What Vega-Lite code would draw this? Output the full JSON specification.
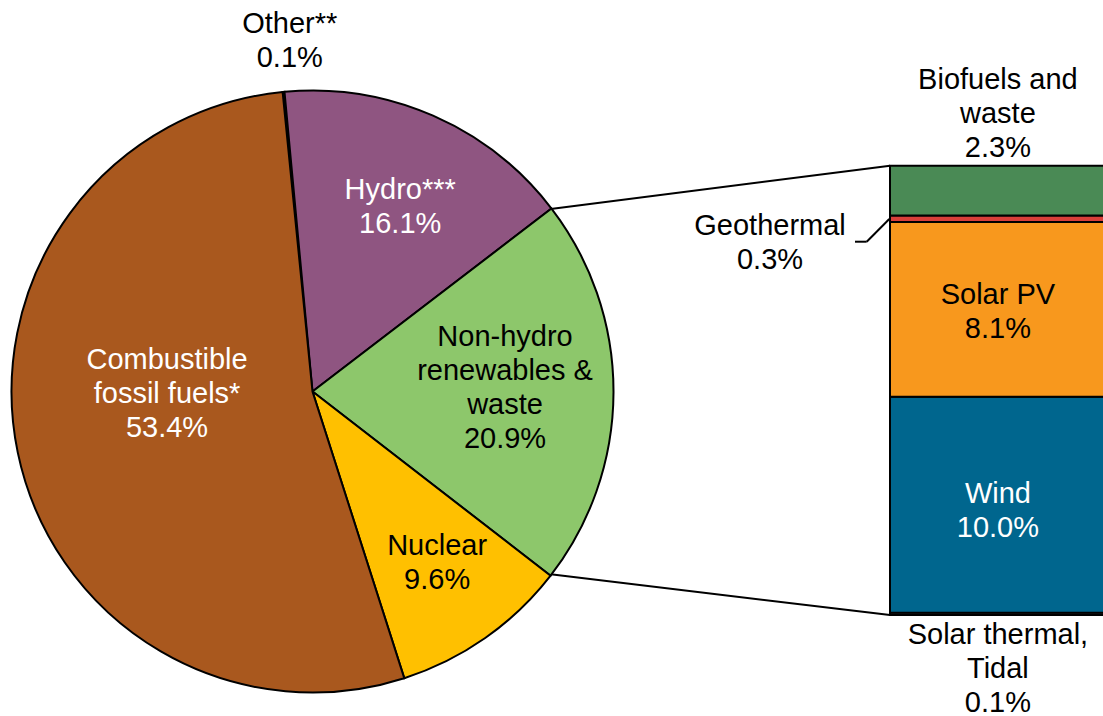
{
  "$schema": "https://vega.github.io/schema/vega-lite/v6.json",
  "width": 1103,
  "height": 716,
  "padding": 0,
  "autosize": {"type": "none"},
  "background": "white",
  "config": {
    "view": {"stroke": null},
    "text": {"font": "Liberation Sans", "fontSize": 29, "lineHeight": 34, "lineBreak": "\n", "baseline": "middle", "align": "center"}
  },
  "datasets": {
    "pie": [
      {"name": "Other", "value": 0.1, "label": "Other**\n0.1%"},
      {"name": "Hydro", "value": 16.1, "label": "Hydro***\n16.1%"},
      {"name": "Non-hydro", "value": 20.9, "label": "Non-hydro\nrenewables &\nwaste\n20.9%"},
      {"name": "Nuclear", "value": 9.6, "label": "Nuclear\n9.6%"},
      {"name": "Combustible", "value": 53.4, "label": "Combustible\nfossil fuels*\n53.4%"}
    ],
    "bar": [
      {"name": "Solar thermal, Tidal", "value": 0.1, "label": "Solar thermal,\nTidal\n0.1%"},
      {"name": "Wind", "value": 10.0, "label": "Wind\n10.0%"},
      {"name": "Solar PV", "value": 8.1, "label": "Solar PV\n8.1%"},
      {"name": "Geothermal", "value": 0.3, "label": "Geothermal\n0.3%"},
      {"name": "Biofuels and waste", "value": 2.3, "label": "Biofuels and\nwaste\n2.3%"}
    ],
    "one": [{}]
  },
  "layer": [
    {
      "data": {"name": "one"},
      "mark": {"type": "rule", "color": "black", "strokeWidth": 2},
      "encoding": {
        "x": {"datum": 25.495, "type": "quantitative", "scale": {"domain": [0, 51.065], "nice": false, "zero": false}, "axis": null},
        "y": {"datum": 18.796, "type": "quantitative", "scale": {"domain": [-4.676, 28.472], "nice": false, "zero": false}, "axis": null},
        "x2": {"datum": 41.204},
        "y2": {"datum": 20.8}
      }
    },
    {
      "data": {"name": "one"},
      "mark": {"type": "rule", "color": "black", "strokeWidth": 2},
      "encoding": {
        "x": {"datum": 25.495, "type": "quantitative"},
        "y": {"datum": 1.884, "type": "quantitative"},
        "x2": {"datum": 41.204},
        "y2": {"datum": 0}
      }
    },
    {
      "data": {"name": "one"},
      "mark": {"type": "rule", "color": "black", "strokeWidth": 2},
      "encoding": {
        "x": {"datum": 39.583, "type": "quantitative"},
        "y": {"datum": 17.282, "type": "quantitative"},
        "x2": {"datum": 40.125},
        "y2": {"datum": 17.282}
      }
    },
    {
      "data": {"name": "one"},
      "mark": {"type": "rule", "color": "black", "strokeWidth": 2},
      "encoding": {
        "x": {"datum": 40.125, "type": "quantitative"},
        "y": {"datum": 17.282, "type": "quantitative"},
        "x2": {"datum": 41.171},
        "y2": {"datum": 18.333}
      }
    },
    {
      "data": {"name": "pie"},
      "transform": [{"stack": "value", "groupby": [], "as": ["v0", "v1"]}],
      "mark": {"type": "arc", "outerRadius": 301, "stroke": "black", "strokeWidth": 2},
      "encoding": {
        "x": {"datum": 14.468, "type": "quantitative"},
        "y": {"datum": 10.347, "type": "quantitative"},
        "theta": {"field": "v0", "type": "quantitative", "stack": null, "scale": {"domain": [0, 100.1], "range": [-0.09948, 6.18371]}},
        "theta2": {"field": "v1"},
        "color": {
          "field": "name", "type": "nominal", "legend": null,
          "scale": {
            "domain": ["Other", "Hydro", "Non-hydro", "Nuclear", "Combustible", "Solar thermal, Tidal", "Wind", "Solar PV", "Geothermal", "Biofuels and waste"],
            "range": ["#3a3a3a", "#8F5581", "#8DC76B", "#FFC000", "#A9581E", "#BFBFBF", "#00668E", "#F8981D", "#D9403A", "#4A8A55"]
          }
        }
      }
    },
    {
      "data": {"name": "pie"},
      "transform": [
        {"stack": "value", "groupby": [], "as": ["v0", "v1"]},
        {"calculate": "(datum.v0 + datum.v1) / 2", "as": "mid"},
        {"filter": "datum.name === 'Other'"}
      ],
      "mark": {"type": "text", "radius": 351, "dx": 11, "dy": -18, "color": "black"},
      "encoding": {
        "x": {"datum": 14.468, "type": "quantitative"},
        "y": {"datum": 10.347, "type": "quantitative"},
        "theta": {"field": "mid", "type": "quantitative", "stack": null},
        "text": {"field": "label"}
      }
    },
    {
      "data": {"name": "pie"},
      "transform": [
        {"stack": "value", "groupby": [], "as": ["v0", "v1"]},
        {"calculate": "(datum.v0 + datum.v1) / 2", "as": "mid"},
        {"filter": "datum.name === 'Hydro'"}
      ],
      "mark": {"type": "text", "radius": 204, "dx": 6, "dy": -15, "color": "white"},
      "encoding": {
        "x": {"datum": 14.468, "type": "quantitative"},
        "y": {"datum": 10.347, "type": "quantitative"},
        "theta": {"field": "mid", "type": "quantitative", "stack": null},
        "text": {"field": "label"}
      }
    },
    {
      "data": {"name": "pie"},
      "transform": [
        {"stack": "value", "groupby": [], "as": ["v0", "v1"]},
        {"calculate": "(datum.v0 + datum.v1) / 2", "as": "mid"},
        {"filter": "datum.name === 'Non-hydro'"}
      ],
      "mark": {"type": "text", "radius": 192.5, "dx": 0, "dy": -55, "color": "black"},
      "encoding": {
        "x": {"datum": 14.468, "type": "quantitative"},
        "y": {"datum": 10.347, "type": "quantitative"},
        "theta": {"field": "mid", "type": "quantitative", "stack": null},
        "text": {"field": "label"}
      }
    },
    {
      "data": {"name": "pie"},
      "transform": [
        {"stack": "value", "groupby": [], "as": ["v0", "v1"]},
        {"calculate": "(datum.v0 + datum.v1) / 2", "as": "mid"},
        {"filter": "datum.name === 'Nuclear'"}
      ],
      "mark": {"type": "text", "radius": 212, "dx": 3, "dy": -19, "color": "black"},
      "encoding": {
        "x": {"datum": 14.468, "type": "quantitative"},
        "y": {"datum": 10.347, "type": "quantitative"},
        "theta": {"field": "mid", "type": "quantitative", "stack": null},
        "text": {"field": "label"}
      }
    },
    {
      "data": {"name": "pie"},
      "transform": [
        {"stack": "value", "groupby": [], "as": ["v0", "v1"]},
        {"calculate": "(datum.v0 + datum.v1) / 2", "as": "mid"},
        {"filter": "datum.name === 'Combustible'"}
      ],
      "mark": {"type": "text", "radius": 145, "dx": -3.5, "dy": -61, "color": "white"},
      "encoding": {
        "x": {"datum": 14.468, "type": "quantitative"},
        "y": {"datum": 10.347, "type": "quantitative"},
        "theta": {"field": "mid", "type": "quantitative", "stack": null},
        "text": {"field": "label"}
      }
    },
    {
      "data": {"name": "bar"},
      "transform": [{"stack": "value", "groupby": [], "as": ["v0", "v1"]}],
      "mark": {"type": "rect", "stroke": "black", "strokeWidth": 2},
      "encoding": {
        "x": {"datum": 41.204, "type": "quantitative"},
        "x2": {"datum": 51.25},
        "y": {"field": "v0", "type": "quantitative"},
        "y2": {"field": "v1"},
        "color": {"field": "name", "type": "nominal", "legend": null}
      }
    },
    {
      "data": {"name": "bar"},
      "transform": [
        {"stack": "value", "groupby": [], "as": ["v0", "v1"]},
        {"calculate": "(datum.v0 + datum.v1) / 2", "as": "mid"},
        {"filter": "datum.name === 'Solar PV'"}
      ],
      "mark": {"type": "text", "dy": -14.4, "color": "black"},
      "encoding": {
        "x": {"datum": 46.2, "type": "quantitative"},
        "y": {"field": "mid", "type": "quantitative"},
        "text": {"field": "label"}
      }
    },
    {
      "data": {"name": "bar"},
      "transform": [
        {"stack": "value", "groupby": [], "as": ["v0", "v1"]},
        {"calculate": "(datum.v0 + datum.v1) / 2", "as": "mid"},
        {"filter": "datum.name === 'Wind'"}
      ],
      "mark": {"type": "text", "dy": -11, "color": "white"},
      "encoding": {
        "x": {"datum": 46.2, "type": "quantitative"},
        "y": {"field": "mid", "type": "quantitative"},
        "text": {"field": "label"}
      }
    },
    {
      "data": {"name": "bar"},
      "transform": [
        {"stack": "value", "groupby": [], "as": ["v0", "v1"]},
        {"filter": "datum.name === 'Biofuels and waste'"}
      ],
      "mark": {"type": "text", "dy": -85.7, "color": "black"},
      "encoding": {
        "x": {"datum": 46.2, "type": "quantitative"},
        "y": {"field": "v1", "type": "quantitative"},
        "text": {"field": "label"}
      }
    },
    {
      "data": {"name": "bar"},
      "transform": [
        {"stack": "value", "groupby": [], "as": ["v0", "v1"]},
        {"filter": "datum.name === 'Solar thermal, Tidal'"}
      ],
      "mark": {"type": "text", "dy": 20, "color": "black"},
      "encoding": {
        "x": {"datum": 46.2, "type": "quantitative"},
        "y": {"field": "v0", "type": "quantitative"},
        "text": {"field": "label"}
      }
    },
    {
      "data": {"name": "bar"},
      "transform": [
        {"stack": "value", "groupby": [], "as": ["v0", "v1"]},
        {"calculate": "(datum.v0 + datum.v1) / 2", "as": "mid"},
        {"filter": "datum.name === 'Geothermal'"}
      ],
      "mark": {"type": "text", "dy": 7.4, "color": "black"},
      "encoding": {
        "x": {"datum": 35.65, "type": "quantitative"},
        "y": {"field": "mid", "type": "quantitative"},
        "text": {"field": "label"}
      }
    }
  ]
}
